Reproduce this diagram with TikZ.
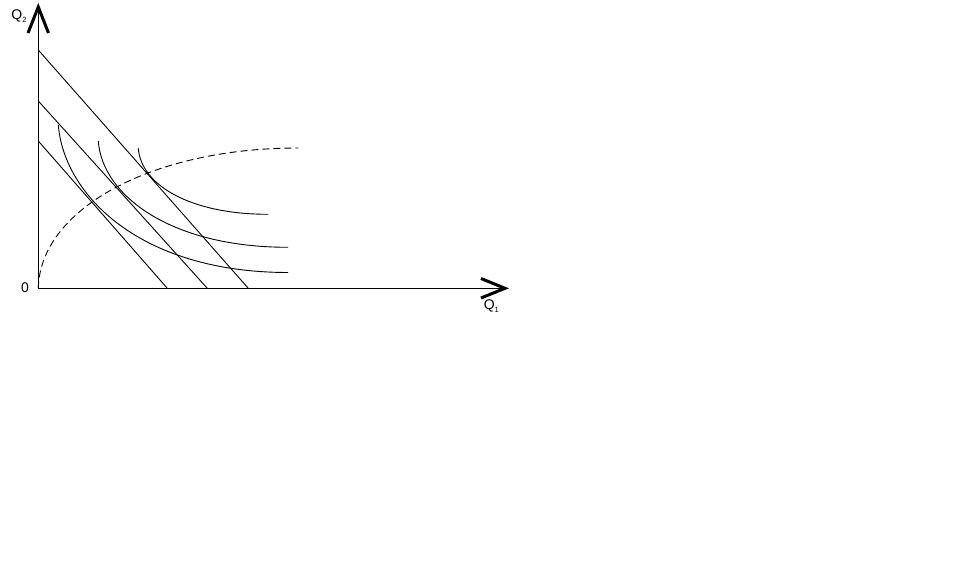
\documentclass[tikz,border=0pt]{standalone}
\usepackage{fontspec}
\setmainfont{Liberation Sans}
\begin{document}
\begin{tikzpicture}[x=1pt,y=-1pt,
  thinline/.style={line width=0.9pt, black},
  chevron/.style={line width=3pt, line join=miter, line cap=butt, black},
  dashcurve/.style={line width=0.9pt, black, dash pattern=on 7pt off 4pt},
  lbl/.style={inner sep=0pt, anchor=base west, font=\fontsize{14pt}{16pt}\selectfont}]
\useasboundingbox (0,0) rectangle (978,569);
\fill[white] (0,0) rectangle (978,569);
% axes
\coordinate (O) at (38.3,288.3);
\coordinate (ytip) at (38.3,7);
\coordinate (ya1) at (28,33);
\coordinate (ya2) at (48.5,33);
\coordinate (xtip) at (505,288.3);
\coordinate (xa1) at (481,278.5);
\coordinate (xa2) at (481,298);
\draw[thinline] (O) -- (ytip);
\draw[thinline] (O) -- (xtip);
\draw[chevron] (ya1) -- (ytip) -- (ya2);
\draw[chevron] (xa1) -- (xtip) -- (xa2);
% labels
\node[lbl] (q2) at (11.3,19.8) {Q\raisebox{-2.8pt}{\fontsize{7.5pt}{8pt}\selectfont 2}};
\node[lbl] (q1) at (483.6,309.8) {Q\raisebox{-2.8pt}{\fontsize{7.5pt}{8pt}\selectfont 1}};
\node[lbl] (zero) at (21,292.5) {0};
% budget lines
\coordinate (b1s) at (38.3,50);
\coordinate (b1e) at (248.3,288.3);
\coordinate (b2s) at (38.3,101);
\coordinate (b2e) at (207.3,288.3);
\coordinate (b3s) at (38.3,141);
\coordinate (b3e) at (167.3,288.3);
\draw[thinline] (b1s) -- (b1e);
\draw[thinline] (b2s) -- (b2e);
\draw[thinline] (b3s) -- (b3e);
% indifference curves
\coordinate (a0) at (58.3,125);
\coordinate (a3) at (288,272.5);
\draw[thinline] (a0) .. controls (64,195) and (140,272.5) .. (a3);
\coordinate (c0) at (98.3,141);
\coordinate (c3) at (288,247.3);
\draw[thinline] (c0) .. controls (102,195) and (170,247.3) .. (c3);
\coordinate (e0) at (138.3,148.3);
\coordinate (e3) at (268.3,214.3);
\draw[thinline] (e0) .. controls (141,185) and (190,214.3) .. (e3);
% expansion path
\coordinate (p3) at (298.3,148);
\draw[dashcurve] (O) .. controls (40,210) and (150,148) .. (p3);
\end{tikzpicture}
\end{document}
